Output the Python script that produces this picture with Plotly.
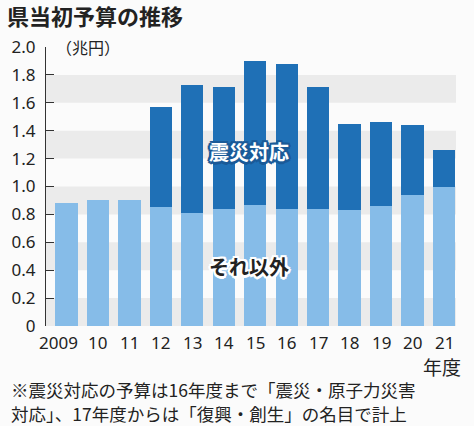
import plotly.graph_objects as go

years = ["2009", "10", "11", "12", "13", "14", "15", "16", "17", "18", "19", "20", "21"]
other = [0.88, 0.90, 0.90, 0.85, 0.81, 0.84, 0.87, 0.84, 0.84, 0.83, 0.86, 0.94, 1.00]
total = [0.88, 0.90, 0.90, 1.57, 1.73, 1.71, 1.90, 1.88, 1.71, 1.45, 1.46, 1.44, 1.26]
disaster = [round(t - o, 3) for t, o in zip(total, other)]
ytick_vals = [0, 0.2, 0.4, 0.6, 0.8, 1.0, 1.2, 1.4, 1.6, 1.8, 2.0]
ytick_text = ["0", "0.2", "0.4", "0.6", "0.8", "1.0", "1.2", "1.4", "1.6", "1.8", "2.0"]
footnote = ["※震災対応の予算は16年度まで「震災・原子力災害",
            "対応」、17年度からは「復興・創生」の名目で計上"]

LIGHT = "#86bce8"
DARK = "#1f70b6"
BG = "#fbfbfb"
NUM_FONT = "Noto Sans"
JP_FONT = "Noto Sans CJK JP"
TXT = "#222"

fig = go.Figure()
fig.add_trace(go.Bar(x=years, y=other, marker=dict(color=LIGHT, line=dict(width=0)),
                     name="それ以外", hoverinfo="skip"))
fig.add_trace(go.Bar(x=years, y=disaster, marker=dict(color=DARK, line=dict(width=0)),
                     name="震災対応", hoverinfo="skip"))

shapes = []
for i in range(0, len(ytick_vals) - 1, 2):
    shapes.append(dict(type="rect", xref="paper", yref="y", x0=0, x1=1,
                       y0=ytick_vals[i], y1=ytick_vals[i + 1],
                       fillcolor="#ebebeb", line=dict(width=0), layer="below"))

def outline(color, w=2):
    parts = []
    d = round(w * 0.7, 2)
    for dx, dy in [(w, 0), (-w, 0), (0, w), (0, -w), (d, d), (-d, d), (d, -d), (-d, -d)]:
        parts.append(f"{dx}px {dy}px 0 {color}")
    return ", ".join(parts)

annotations = [
    dict(text="<b>県当初予算の推移</b>", xref="paper", yref="paper", x=-0.1, y=1.115,
         xanchor="left", yanchor="middle", showarrow=False,
         font=dict(family=JP_FONT, size=22, color=TXT)),
    dict(text="（兆円）", xref="paper", yref="paper", x=0.02, y=1.0,
         xanchor="left", yanchor="middle", showarrow=False,
         font=dict(family=JP_FONT, size=16, color=TXT)),
    dict(text="<b>震災対応</b>", x=5.8, y=1.25, xref="x", yref="y",
         showarrow=False, xanchor="center", yanchor="middle",
         font=dict(family=JP_FONT, size=20, color="white", shadow=outline("#1a5a98", 2.5))),
    dict(text="<b>それ以外</b>", x=5.8, y=0.43, xref="x", yref="y",
         showarrow=False, xanchor="center", yanchor="middle",
         font=dict(family=JP_FONT, size=20, color=TXT, shadow=outline("white", 2.5))),
    dict(text="年度", xref="paper", yref="paper", x=1.017, y=-0.13, yshift=-4,
         xanchor="right", yanchor="middle", showarrow=False,
         font=dict(family=JP_FONT, size=19, color=TXT)),
]
for k, line in enumerate(footnote):
    annotations.append(dict(text=line, xref="paper", yref="paper", x=-0.088,
                            y=-0.229 - k * 0.083, xanchor="left", yanchor="middle",
                            borderpad=0, showarrow=False,
                            font=dict(family=JP_FONT, size=17.5, color=TXT)))
for k, lab in enumerate(years):
    annotations.append(dict(text=lab, x=k, y=0, xref="x", yref="y",
                            xanchor="center", yanchor="top", yshift=-3,
                            xshift=-8 if k == 0 else 0, showarrow=False,
                            font=dict(family=NUM_FONT, size=17, color=TXT)))

fig.update_layout(
    width=474, height=426,
    barmode="stack", bargap=0.29,
    showlegend=False,
    paper_bgcolor=BG, plot_bgcolor=BG,
    margin=dict(l=42, r=18, t=47, b=100),
    shapes=shapes, annotations=annotations,
    xaxis=dict(type="category", range=[-0.65, 12.38], showgrid=False, showline=False,
               ticks="", zeroline=False, showticklabels=False, fixedrange=True),
    yaxis=dict(range=[0, 2.0], tickvals=ytick_vals, ticktext=ytick_text,
               showgrid=False, zeroline=False, showline=True, linecolor="#333", linewidth=1,
               ticks="inside", ticklen=8, tickcolor="#333", tickwidth=1,
               tickfont=dict(family=NUM_FONT, size=17, color=TXT),
               ticklabelstandoff=6, fixedrange=True),
)

fig.write_html("out.html", config={"displayModeBar": False},
               post_script="document.body.style.margin='0px';document.body.style.background='%s';" % BG)
